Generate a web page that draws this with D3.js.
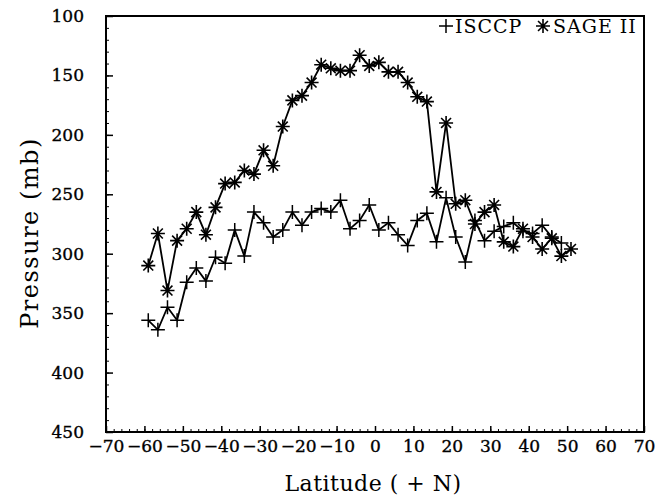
<!DOCTYPE html>
<html>
<head>
<meta charset="utf-8">
<script src="https://cdn.jsdelivr.net/npm/d3@7"></script>
<style>
  body { margin: 0; background: #fff; }
  text { font-family: "DejaVu Serif", serif; fill: #000; }
</style>
</head>
<body>
<svg id="chart" width="664" height="497"></svg>
<script>
// latitude bins (deg N)
const lats = [-59, -56.5, -54, -51.5, -49, -46.5, -44, -41.5, -39, -36.5, -34, -31.5, -29, -26.5, -24,
  -21.5, -19, -16.5, -14, -11.5, -9, -6.5, -4, -1.5, 1, 3.5, 6, 8.5, 11, 13.5, 16, 18.5, 21, 23.5,
  26, 28.5, 31, 33.5, 36, 38.5, 41, 43.5, 46, 48.5, 51];

// cloud top pressure (mb)
const isccp = [356, 364, 345, 356, 324, 312, 323, 303, 308, 280, 302, 265, 274, 286, 280,
  265, 276, 265, 262, 265, 255, 279, 272, 259, 280, 274, 284, 293, 272, 266, 290, 253, 286, 307,
  272, 289, 281, 277, 274, 281, 283, 276, 286, 291];
const sage = [310, 283, 331, 289, 279, 265, 284, 261, 241, 240, 230, 233, 213, 226, 193,
  171, 167, 156, 141, 144, 146, 146, 133, 142, 139, 147, 147, 156, 168, 172, 248, 190, 258, 255,
  275, 265, 259, 290, 294, 279, 286, 296, 287, 302, 296];

const svg = d3.select("#chart");

const x = d3.scaleLinear().domain([-70, 70]).range([106, 644]);
const y = d3.scaleLinear().domain([100, 450]).range([16, 432]);

// minor ticks
svg.append("g")
  .attr("transform", `translate(0,${y(450)})`)
  .call(d3.axisBottom(x).tickValues(d3.range(-70, 71, 2)).tickSizeInner(-3).tickSizeOuter(0).tickFormat(""))
  .call(g => g.select(".domain").remove());
svg.append("g")
  .attr("transform", `translate(${x(-70)},0)`)
  .call(d3.axisLeft(y).tickValues(d3.range(100, 451, 10)).tickSizeInner(-3).tickSizeOuter(0).tickFormat(""))
  .call(g => g.select(".domain").remove());

// major ticks + labels
const xAxis = svg.append("g")
  .attr("transform", `translate(0,${y(450)})`)
  .call(d3.axisBottom(x).tickValues(d3.range(-70, 71, 10)).tickSizeInner(-6).tickSizeOuter(0).tickPadding(8));
const yAxis = svg.append("g")
  .attr("transform", `translate(${x(-70)},0)`)
  .call(d3.axisLeft(y).tickValues(d3.range(100, 451, 50)).tickSizeInner(-7).tickSizeOuter(0).tickPadding(22));

[xAxis, yAxis].forEach(g => {
  g.select(".domain").remove();
  g.selectAll("text").attr("font-family", "DejaVu Serif").attr("font-size", 17)
    .attr("stroke", "#000").attr("stroke-width", 0.35);
  g.selectAll("line").attr("stroke-width", 1.5);
});
svg.selectAll(".tick line").attr("stroke", "#000");

// frame
svg.append("rect")
  .attr("x", x(-70)).attr("y", y(100))
  .attr("width", x(70) - x(-70)).attr("height", y(450) - y(100))
  .attr("fill", "none").attr("stroke", "#000").attr("stroke-width", 2);

// markers
const plus = d3.path();
plus.moveTo(-7, 0); plus.lineTo(7, 0); plus.moveTo(0, -7); plus.lineTo(0, 7);
const star = d3.path();
[0, 45, 90, 135].forEach(a => {
  const r = 7, t = a * Math.PI / 180;
  star.moveTo(-r * Math.cos(t), -r * Math.sin(t));
  star.lineTo(r * Math.cos(t), r * Math.sin(t));
});

const line = d3.line().x(d => x(d[0])).y(d => y(d[1]));

function drawSeries(vals, shape, sw) {
  const pts = vals.map((v, i) => [lats[i], v]);
  svg.append("path").datum(pts)
    .attr("d", line).attr("fill", "none").attr("stroke", "#000").attr("stroke-width", 1.8);
  svg.append("g").selectAll("path").data(pts).join("path")
    .attr("d", shape.toString())
    .attr("transform", d => `translate(${x(d[0])},${y(d[1])})`)
    .attr("fill", "none").attr("stroke", "#000").attr("stroke-width", sw);
}
drawSeries(isccp, plus, 1.5);
drawSeries(sage, star, 1.6);

// legend
const leg = svg.append("g");
leg.append("path").attr("d", plus.toString()).attr("transform", "translate(446,26)")
  .attr("stroke", "#000").attr("stroke-width", 1.5);
leg.append("text").attr("x", 455).attr("y", 33).attr("font-size", 19).attr("letter-spacing", 1).text("ISCCP");
leg.append("path").attr("d", star.toString()).attr("transform", "translate(543,26)")
  .attr("stroke", "#000").attr("stroke-width", 1.6);
leg.append("text").attr("x", 553).attr("y", 33).attr("font-size", 19).attr("letter-spacing", 1).text("SAGE II");

// axis titles
svg.append("text")
  .attr("x", 373).attr("y", 491).attr("text-anchor", "middle").attr("font-size", 22)
  .attr("letter-spacing", 0.5)
  .text("Latitude ( + N)");
svg.append("text")
  .attr("transform", "translate(38,233) rotate(-90)")
  .attr("text-anchor", "middle").attr("font-size", 24).attr("letter-spacing", 1.5)
  .text("Pressure (mb)");
</script>
</body>
</html>
